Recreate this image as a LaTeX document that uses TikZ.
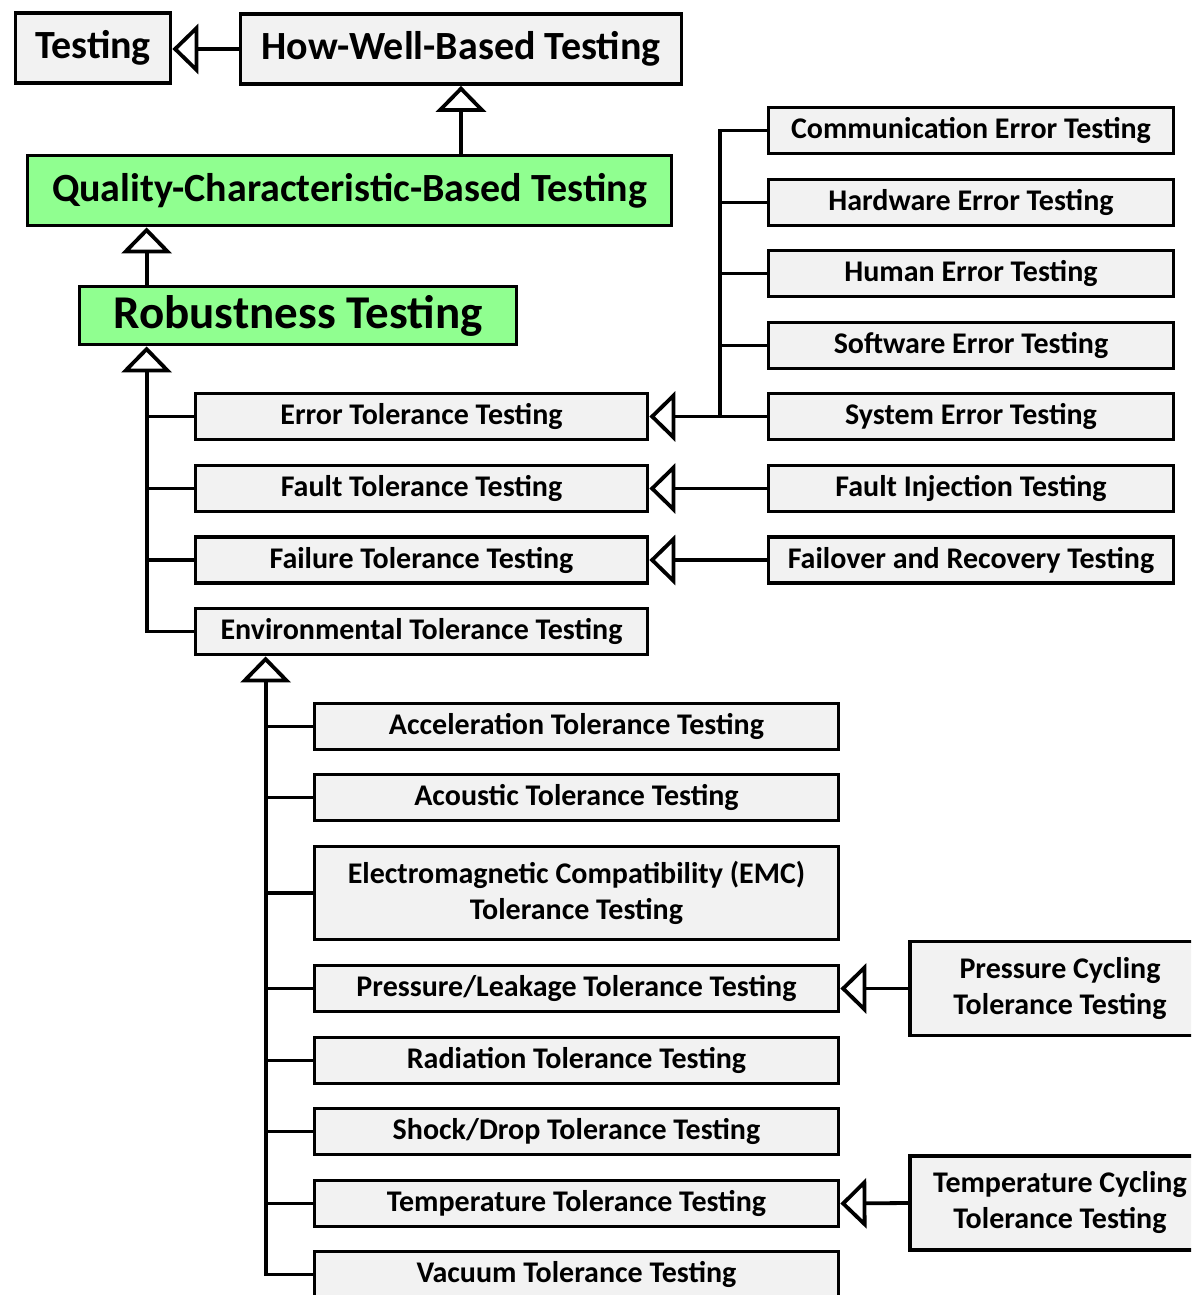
\documentclass[tikz,border=0pt]{standalone}
\usepackage{fontspec}
\setmainfont{Carlito}
\usetikzlibrary{arrows.meta}
\definecolor{boxgray}{RGB}{242,242,242}
\definecolor{boxgreen}{RGB}{144,255,144}
\begin{document}
\begin{tikzpicture}[x=1pt,y=-1pt,
  every node/.style={font=\bfseries\fontsize{30}{36}\selectfont},
  tbox/.style={draw, line width=3.8pt, fill=boxgray, inner sep=0pt, align=center, minimum height=46pt},
  gbox/.style={tbox, fill=boxgreen},
  conn/.style={line width=3.8pt},
  gen/.style={line width=3.8pt, -{Triangle[length=26pt,width=50pt,fill=white]}}]
\clip (0,0) rectangle (1191,1295);
\fill[white] (0,0) rectangle (1191,1295);
% top
\node[tbox, minimum width=155pt, minimum height=70pt, font=\bfseries\fontsize{40}{44}\selectfont] (test) at (93,48) {Testing};
\node[tbox, minimum width=441pt, minimum height=70pt, font=\bfseries\fontsize{40}{44}\selectfont] (hw) at (461,49) {How-Well-Based Testing};
\node[gbox, minimum width=644pt, minimum height=70pt, font=\bfseries\fontsize{40}{44}\selectfont] (qcb) at (349.5,190.5) {Quality-Characteristic-Based Testing};
\node[gbox, minimum width=437pt, minimum height=58pt, font=\bfseries\fontsize{47}{52}\selectfont] (rob) at (298,315.5) {Robustness Testing};
% robustness children
\node[tbox, minimum width=452pt] (err) at (421.5,416.5) {Error Tolerance Testing};
\node[tbox, minimum width=452pt] (fault) at (421.5,488.5) {Fault Tolerance Testing};
\node[tbox, minimum width=452pt] (fail) at (421.5,560) {Failure Tolerance Testing};
\node[tbox, minimum width=452pt] (env) at (421.5,631.5) {Environmental Tolerance Testing};
% error children
\node[tbox, minimum width=405pt] (comm) at (971,130.5) {Communication Error Testing};
\node[tbox, minimum width=405pt] (hwe) at (971,202.5) {Hardware Error Testing};
\node[tbox, minimum width=405pt] (hum) at (971,273.5) {Human Error Testing};
\node[tbox, minimum width=405pt] (sw) at (971,345.5) {Software Error Testing};
\node[tbox, minimum width=405pt] (sys) at (971,416.5) {System Error Testing};
\node[tbox, minimum width=405pt] (finj) at (971,488.5) {Fault Injection Testing};
\node[tbox, minimum width=405pt] (fo) at (971,560) {Failover and Recovery Testing};
% environmental children
\node[tbox, minimum width=524pt] (acc) at (576.5,726.5) {Acceleration Tolerance Testing};
\node[tbox, minimum width=524pt] (aco) at (576.5,797.5) {Acoustic Tolerance Testing};
\node[tbox, minimum width=524pt, minimum height=93pt] (emc) at (576.5,893) {Electromagnetic Compatibility (EMC)\\Tolerance Testing};
\node[tbox, minimum width=524pt] (pl) at (576.5,988.5) {Pressure/Leakage Tolerance Testing};
\node[tbox, minimum width=524pt] (rad) at (576.5,1060.5) {Radiation Tolerance Testing};
\node[tbox, minimum width=524pt] (sh) at (576.5,1131.5) {Shock/Drop Tolerance Testing};
\node[tbox, minimum width=524pt] (temp) at (576.5,1203.5) {Temperature Tolerance Testing};
\node[tbox, minimum width=524pt] (vac) at (576.5,1274.5) {Vacuum Tolerance Testing};
\node[tbox, minimum width=300pt, minimum height=94pt] (pc) at (1060,988.5) {Pressure Cycling\\Tolerance Testing};
\node[tbox, minimum width=300pt, minimum height=94pt] (tc) at (1060,1203) {Temperature Cycling\\Tolerance Testing};
% coordinates
\coordinate (rtop) at ([xshift=69pt]rob.south west);
\coordinate (etr) at (720,416.5);
\coordinate (envt) at ([xshift=72pt]env.south west);
% connectors
\draw[gen] (hw.west) -- (test.east |- hw.west);
\draw[gen] (hw.south |- qcb.north) -- (hw.south);
\draw[gen] ([xshift=69pt]rob.north west) -- ([xshift=69pt]rob.north west |- qcb.south);
\draw[gen] (env.west) -| (rtop);
\draw[conn] (err.west) -- (err.west -| rtop);
\draw[conn] (fault.west) -- (fault.west -| rtop);
\draw[conn] (fail.west) -- (fail.west -| rtop);
\draw[gen] (sys.west) -- (err.east);
\draw[conn] (comm.west) -| (etr);
\draw[conn] (hwe.west) -- (hwe.west -| etr);
\draw[conn] (hum.west) -- (hum.west -| etr);
\draw[conn] (sw.west) -- (sw.west -| etr);
\draw[gen] (finj.west) -- (fault.east);
\draw[gen] (fo.west) -- (fail.east);
\draw[gen] (vac.west) -| (envt);
\draw[conn] (acc.west) -- (acc.west -| envt);
\draw[conn] (aco.west) -- (aco.west -| envt);
\draw[conn] (emc.west) -- (emc.west -| envt);
\draw[conn] (pl.west) -- (pl.west -| envt);
\draw[conn] (rad.west) -- (rad.west -| envt);
\draw[conn] (sh.west) -- (sh.west -| envt);
\draw[conn] (temp.west) -- (temp.west -| envt);
\draw[gen] (pc.west) -- (pl.east);
\draw[gen] (tc.west) -- (temp.east);
\end{tikzpicture}
\end{document}
